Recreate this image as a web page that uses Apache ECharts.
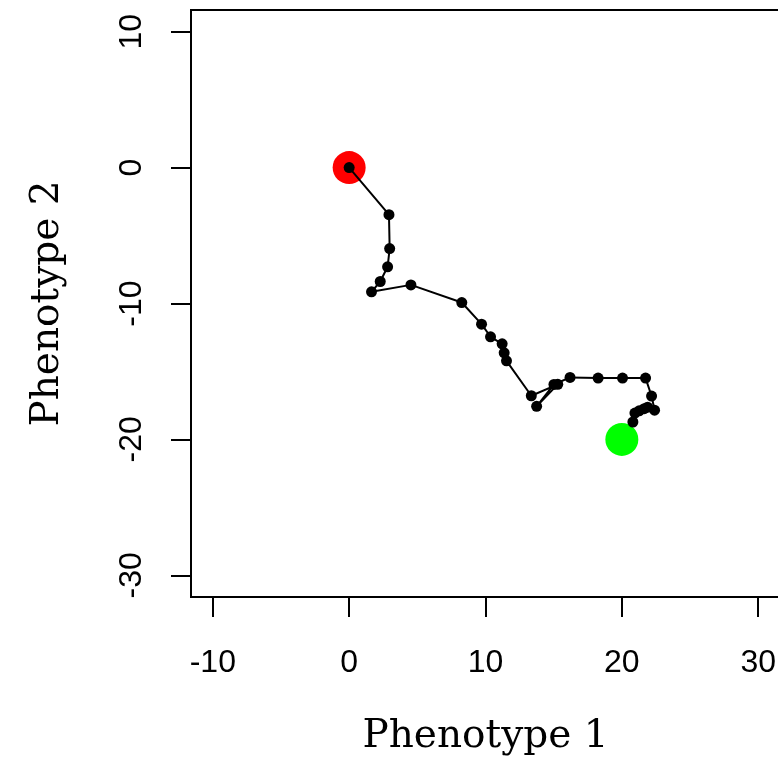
<!DOCTYPE html>
<html>
<head>
<meta charset="utf-8">
<script src="https://cdn.jsdelivr.net/npm/echarts@6/dist/echarts.min.js"></script>
<style>
html, body { margin: 0; padding: 0; background: #fff; }
#main { width: 778px; height: 767px; }
</style>
</head>
<body>
<div id="main"></div>
<script>
// walk through phenotype space
var pathX = [0, 2.92, 2.97, 2.82, 2.28, 1.64, 4.53, 8.26, 9.71, 10.37, 11.22, 11.37, 11.54, 13.36, 15.3, 13.75, 15.02, 16.2, 18.26, 20.05, 21.74, 22.18, 22.4, 21.89, 21.64, 21.27, 20.96, 20.81];
var pathY = [0, -3.46, -5.96, -7.30, -8.38, -9.14, -8.63, -9.93, -11.52, -12.45, -12.97, -13.63, -14.22, -16.79, -15.95, -17.57, -15.96, -15.44, -15.49, -15.49, -15.49, -16.81, -17.85, -17.63, -17.74, -17.9, -18.06, -18.72];
var startPoint = [0, 0];
var targetPoint = [20, -20];
var xTicks = [-10, 0, 10, 20, 30];
var yTicks = [-30, -20, -10, 0, 10];

var pathData = [];
for (var i = 0; i < pathX.length; i++) {
    pathData.push([pathX[i], pathY[i]]);
}

var chart = echarts.init(document.getElementById('main'));

var option = {
    backgroundColor: '#fff',
    animation: false,
    grid: {
        left: 191,
        top: 10,
        width: 589,
        height: 587,
        outerBoundsMode: 'none',
        show: true,
        borderColor: '#000',
        borderWidth: 2,
        backgroundColor: 'transparent'
    },
    xAxis: {
        type: 'value',
        min: -11.6,
        max: 31.6,
        name: 'Phenotype 1',
        nameLocation: 'middle',
        nameGap: 120,
        nameTextStyle: { fontFamily: 'DejaVu Serif', fontSize: 39, color: '#000' },
        axisLine: { show: true, onZero: false, lineStyle: { color: '#000', width: 2 } },
        axisTick: { show: true, length: 20, customValues: xTicks, lineStyle: { color: '#000', width: 2 } },
        axisLabel: { customValues: xTicks, margin: 50, fontFamily: 'Liberation Sans', fontSize: 32, color: '#000' },
        splitLine: { show: false }
    },
    yAxis: {
        type: 'value',
        min: -31.6,
        max: 11.6,
        name: 'Phenotype 2',
        nameLocation: 'middle',
        nameGap: 124,
        nameTextStyle: { fontFamily: 'DejaVu Serif', fontSize: 39, color: '#000' },
        axisLine: { show: true, onZero: false, lineStyle: { color: '#000', width: 2 } },
        axisTick: { show: true, length: 20, customValues: yTicks, lineStyle: { color: '#000', width: 2 } },
        axisLabel: { customValues: yTicks, rotate: 90, margin: 43, fontFamily: 'Liberation Sans', fontSize: 32, color: '#000' },
        splitLine: { show: false }
    },
    series: [
        {
            type: 'scatter',
            data: [startPoint],
            symbolSize: 33,
            itemStyle: { color: '#ff0000', opacity: 1 },
            z: 2
        },
        {
            type: 'scatter',
            data: [targetPoint],
            symbolSize: 33,
            itemStyle: { color: '#00ff00', opacity: 1 },
            z: 2
        },
        {
            type: 'line',
            data: pathData,
            symbol: 'circle',
            symbolSize: 11,
            showAllSymbol: true,
            lineStyle: { color: '#000', width: 2 },
            itemStyle: { color: '#000' },
            z: 3
        }
    ]
};
chart.setOption(option);
</script>
</body>
</html>
